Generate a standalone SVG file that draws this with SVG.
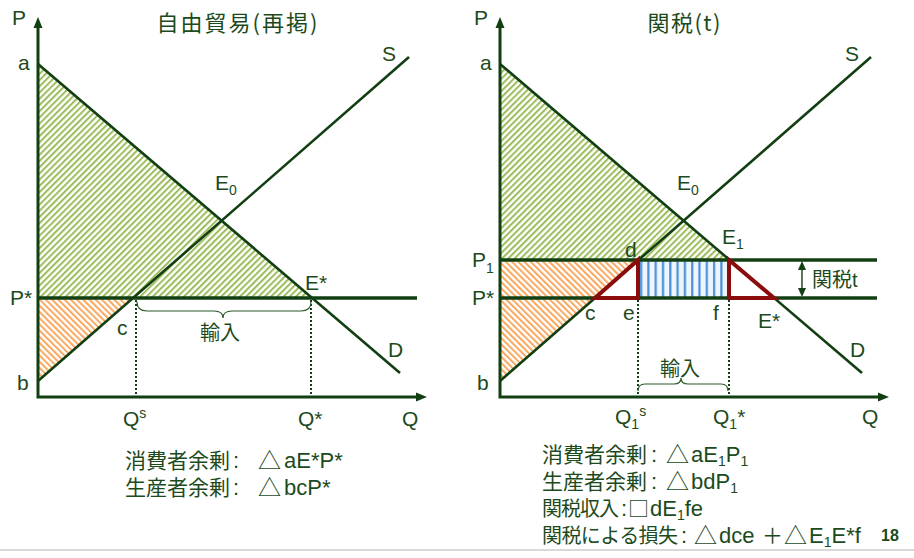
<svg xmlns="http://www.w3.org/2000/svg" width="914" height="558" viewBox="0 0 914 558">
<style>
.ln{stroke:#123f12;fill:none;stroke-width:2.6}
.ax{stroke:#123f12;fill:none;stroke-width:3}
.pl{stroke:#123f12;fill:none;stroke-width:3.6}
.dot{stroke:#123f12;fill:none;stroke-width:2;stroke-dasharray:2 2}
.br{stroke:#2a5a2a;fill:none;stroke-width:1.2}
.tri{stroke:#8a0c0c;fill:none;stroke-width:4;stroke-linejoin:miter}
.ah{fill:#123f12}
.lb{font-family:"Liberation Sans",Arial,sans-serif;font-size:21px;fill:#1c4a1c}
.nb{font-family:"Liberation Sans",Arial,sans-serif;font-size:22px;fill:#1c4a1c}
.cj{font-family:"Noto Sans CJK JP",sans-serif;font-size:20px;fill:#1c4a1c}
.cn{font-family:"Noto Sans CJK JP",sans-serif;font-size:21px;fill:#1c4a1c}
.sy{font-family:"Noto Sans CJK JP",sans-serif;font-size:23px;fill:#1c4a1c}
.tt{font-family:"Noto Sans CJK JP",sans-serif;font-size:22px;fill:#1c4a1c}
.sb{font-size:14px}
</style>
<defs>
<pattern id="hg" width="4.4" height="4.4" patternUnits="userSpaceOnUse" patternTransform="rotate(45)"><rect width="4.4" height="4.4" fill="#ffffff"/><rect width="2" height="4.4" fill="#9dbd5c"/></pattern>
<pattern id="ho" width="4.4" height="4.4" patternUnits="userSpaceOnUse" patternTransform="rotate(-45)"><rect width="4.4" height="4.4" fill="#ffffff"/><rect width="2" height="4.4" fill="#f9a860"/></pattern>
<pattern id="hb" x="639" y="0" width="7.3" height="10" patternUnits="userSpaceOnUse"><rect width="7.3" height="10" fill="#eef5fc"/><rect x="1" width="2.2" height="10" fill="#4a8fdc"/></pattern>
</defs>
<rect width="914" height="558" fill="#ffffff"/>

<!-- Left graph -->
<g id="left-areas">
<polygon points="38,65 312,298 38,298" fill="url(#hg)"/>
<polygon points="38,298 133,298 38,380" fill="url(#ho)"/>
</g>
<g id="left-connectors">
<line class="ln" x1="38" y1="64" x2="400" y2="373"/>
<line class="ln" x1="38" y1="381" x2="409" y2="57"/>
<line class="pl" x1="38" y1="298" x2="417" y2="298"/>
<path class="dot" d="M136,300 V396 M311,300 V396"/>
<path class="br" d="M137,302 Q137,311 147,311 L214,311 Q223,311 223,318 Q223,311 232,311 L301,311 Q311,311 311,302"/>
<path class="ax" d="M38,26 V397 H418"/>
<polygon class="ah" points="38,17 33.5,28 42.5,28"/>
<polygon class="ah" points="427,397 416,392.5 416,401.5"/>
</g>
<g id="left-labels">
<text class="tt" x="237" y="31" text-anchor="middle" textLength="161">自由貿易(再掲)</text>
<text class="lb" x="12" y="25">P</text>
<text class="lb" x="18" y="70">a</text>
<text class="lb" x="382" y="61">S</text>
<text class="lb" x="215" y="190">E<tspan class="sb" dy="5">0</tspan></text>
<text class="lb" x="305" y="290">E*</text>
<text class="lb" x="10" y="305">P*</text>
<text class="lb" x="117" y="335">c</text>
<text class="lb" x="17" y="390">b</text>
<text class="lb" x="388" y="357">D</text>
<text class="cj" x="200" y="340">輸入</text>
<text class="lb" x="123" y="426">Q<tspan class="sb" dy="-8">s</tspan></text>
<text class="lb" x="298" y="426">Q*</text>
<text class="lb" x="402" y="426">Q</text>
</g>

<!-- Right graph -->
<g id="right-areas">
<polygon points="500,65 729,260 500,260" fill="url(#hg)"/>
<polygon points="500,260 638,260 500,380" fill="url(#ho)"/>
<rect x="638" y="260" width="91" height="38" fill="url(#hb)"/>
</g>
<g id="right-connectors">
<line class="ln" x1="500" y1="64" x2="862" y2="373"/>
<line class="ln" x1="500" y1="381" x2="871" y2="57"/>
<line class="pl" x1="500" y1="260" x2="877" y2="260"/>
<line class="pl" x1="500" y1="298" x2="877" y2="298"/>
<polygon class="tri" points="595,298 638,260 638,298"/>
<polygon class="tri" points="729,260 729,298 774,298"/>
<path class="dot" d="M638,300 V396 M729,300 V396"/>
<path class="br" d="M638,391 Q638,384 645,384 L674,384 Q681,384 681,378 Q681,384 688,384 L721,384 Q728,384 728,391"/>
<line stroke="#123f12" stroke-width="1.4" x1="802" y1="268" x2="802" y2="290"/>
<polygon class="ah" points="802,261 798,270 806,270"/>
<polygon class="ah" points="802,297 798,288 806,288"/>
<path class="ax" d="M500,26 V397 H880"/>
<polygon class="ah" points="500,17 495.5,28 504.5,28"/>
<polygon class="ah" points="889,397 878,392.5 878,401.5"/>
</g>
<g id="right-labels">
<text class="tt" x="684" y="31" text-anchor="middle" textLength="73">関税(t)</text>
<text class="lb" x="474" y="25">P</text>
<text class="lb" x="480" y="70">a</text>
<text class="lb" x="845" y="61">S</text>
<text class="lb" x="677" y="190">E<tspan class="sb" dy="5">0</tspan></text>
<text class="lb" x="722" y="244">E<tspan class="sb" dy="5">1</tspan></text>
<text class="lb" x="472" y="267">P<tspan class="sb" dy="6">1</tspan></text>
<text class="lb" x="472" y="305">P*</text>
<text class="lb" x="625" y="257">d</text>
<text class="lb" x="585" y="320">c</text>
<text class="lb" x="623" y="320">e</text>
<text class="lb" x="713" y="320">f</text>
<text class="lb" x="758" y="328">E*</text>
<text class="lb" x="850" y="357">D</text>
<text class="lb" x="477" y="390">b</text>
<text class="cj" x="812" y="287">関税<tspan class="lb" style="font-size:20px">t</tspan></text>
<text class="cj" x="660" y="376">輸入</text>
<text class="lb" x="615" y="424">Q<tspan class="sb" dy="5">1</tspan><tspan class="sb" dy="-13">s</tspan></text>
<text class="lb" x="713" y="424">Q<tspan class="sb" dy="5">1</tspan><tspan dy="-5">*</tspan></text>
<text class="lb" x="862" y="424">Q</text>
</g>

<!-- Left notes -->
<g id="left-notes">
<text class="cn" x="125" y="468">消費者余剰</text>
<text class="nb" x="233" y="468">:</text>
<text class="sy" x="258" y="469">△</text>
<text class="nb" x="284" y="468">aE*P*</text>
<text class="cn" x="125" y="495">生産者余剰</text>
<text class="nb" x="233" y="495">:</text>
<text class="sy" x="258" y="496">△</text>
<text class="nb" x="284" y="495">bcP*</text>
</g>

<!-- Right notes -->
<g id="right-notes">
<text class="cn" x="542" y="462">消費者余剰</text>
<text class="nb" x="651" y="462">:</text>
<text class="sy" x="666" y="463">△</text>
<text class="nb" x="691" y="462">aE<tspan class="sb" dy="4">1</tspan><tspan dy="-4">P</tspan><tspan class="sb" dy="4">1</tspan></text>
<text class="cn" x="542" y="489">生産者余剰</text>
<text class="nb" x="651" y="489">:</text>
<text class="sy" x="666" y="490">△</text>
<text class="nb" x="691" y="489">bdP<tspan class="sb" dy="4">1</tspan></text>
<text class="cj" x="542" y="516" textLength="77">関税収入</text>
<text class="nb" x="621" y="516">:</text>
<text class="cn" x="628" y="516">□</text>
<text class="nb" x="650" y="516">dE<tspan class="sb" dy="4">1</tspan><tspan dy="-4">fe</tspan></text>
<text class="cj" x="542" y="543" textLength="136">関税による損失</text>
<text class="nb" x="681" y="543">:</text>
<text class="sy" x="694" y="544">△</text>
<text class="nb" x="719" y="543">dce</text>
<text class="cn" x="762" y="543">＋</text>
<text class="sy" x="784" y="544">△</text>
<text class="nb" x="809" y="543">E<tspan class="sb" dy="4">1</tspan><tspan dy="-4">E*f</tspan></text>
<text x="881" y="541" style="font-family:'Liberation Sans',Arial,sans-serif;font-size:16px;font-weight:bold;fill:#1c4a1c">18</text>
</g>
<line x1="0" y1="550" x2="914" y2="550" stroke="#d9d9d9" stroke-width="2"/>
</svg>
